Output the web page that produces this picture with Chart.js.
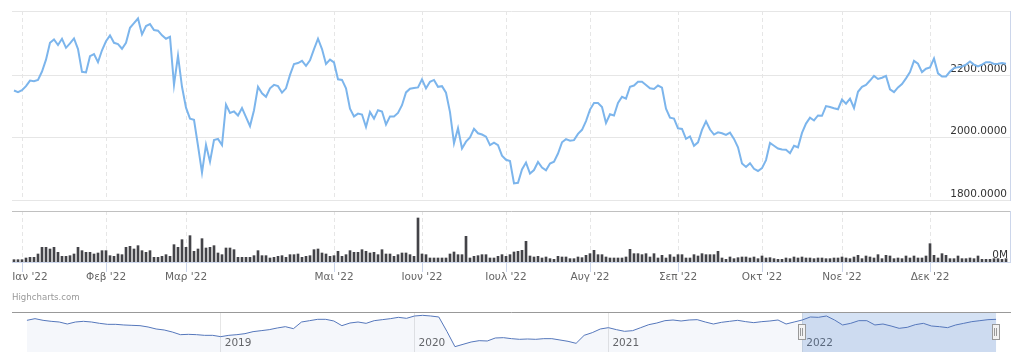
<!DOCTYPE html>
<html>
<head>
<meta charset="utf-8">
<script src="https://cdn.jsdelivr.net/npm/chart.js@4.4.1/dist/chart.umd.min.js"></script>
<style>
  html, body { margin: 0; padding: 0; background: #fff; overflow: hidden; }
  #wrap { position: relative; width: 1021px; height: 352px; }
  canvas { position: absolute; left: 0; }
  #priceCanvas { top: 0; }
  #volCanvas { top: 205px; }
  #navCanvas { top: 305px; }
  .credits { position: absolute; left: 12px; top: 293px; font: 8.6px/9px "DejaVu Sans", sans-serif; color: #999; }
</style>
</head>
<body>
<div id="wrap">
  <canvas id="priceCanvas" width="1021" height="205"></canvas>
  <canvas id="volCanvas" width="1021" height="95"></canvas>
  <canvas id="navCanvas" width="1021" height="47"></canvas>
  <div class="credits">Highcharts.com</div>
</div>
<script>
// daily closes for 2022, one per trading day
const closes = [
  2151, 2146, 2152, 2165, 2183, 2181, 2185, 2212, 2250, 2304,
  2315, 2297, 2317, 2288, 2302, 2318, 2284, 2211, 2209, 2261,
  2268, 2242, 2280, 2309, 2328, 2304, 2300, 2285, 2304, 2352,
  2367, 2382, 2331, 2358, 2364, 2345, 2343, 2328, 2317, 2323,
  2169, 2263, 2163, 2096, 2061, 2057, 1974, 1888, 1977, 1923,
  1992, 1996, 1976, 2106, 2079, 2084, 2071, 2095, 2066, 2037,
  2088, 2163, 2142, 2131, 2158, 2169, 2165, 2144, 2158, 2201,
  2236, 2239, 2246, 2230, 2248, 2284, 2317, 2284, 2236, 2250,
  2241, 2187, 2185, 2158, 2093, 2068, 2077, 2074, 2034, 2082,
  2061, 2088, 2084, 2042, 2068, 2068, 2079, 2104, 2145, 2157,
  2159, 2161, 2187, 2158, 2179, 2185, 2163, 2165, 2144, 2082,
  1982, 2030, 1965, 1987, 2001, 2028, 2014, 2010, 2003, 1976,
  1984, 1976, 1942, 1929, 1925, 1853, 1855, 1898, 1920, 1885,
  1896, 1922, 1904, 1895, 1917, 1923, 1949, 1985, 1995, 1990,
  1992, 2012, 2025, 2053, 2090, 2111, 2111, 2098, 2047, 2075,
  2071, 2111, 2131, 2125, 2163, 2167, 2179, 2179, 2169, 2158,
  2156, 2167, 2160, 2093, 2064, 2061, 2030, 2028, 1996, 2004,
  1974, 1985, 2025, 2052, 2026, 2010, 2017, 2014, 2009, 2016,
  1996, 1969, 1917, 1906, 1918, 1900, 1893, 1902, 1928, 1983,
  1974, 1965, 1962, 1961, 1950, 1974, 1969, 2015, 2045, 2064,
  2055, 2071, 2070, 2101, 2098, 2094, 2091, 2122, 2109, 2125,
  2095, 2147, 2163, 2169, 2183, 2198, 2188, 2192, 2198, 2155,
  2146, 2161, 2172, 2190, 2210, 2246, 2237, 2210, 2221, 2225,
  2254, 2206, 2196, 2196, 2212, 2223, 2226, 2228, 2234, 2244,
  2234, 2228, 2234, 2242, 2242, 2236, 2237, 2239, 2237
];

// volume in millions, same days
const volumes = [
  0.7, 0.7, 0.7, 1.2, 1.4, 1.4, 2.4, 4.4, 4.4, 3.9,
  4.4, 2.9, 1.7, 1.7, 1.9, 2.4, 4.4, 3.4, 2.9, 2.9,
  2.4, 2.7, 3.4, 3.4, 1.9, 1.7, 2.4, 2.2, 4.4, 4.7,
  3.9, 4.9, 3.4, 2.9, 3.4, 1.4, 1.4, 1.7, 2.2, 1.7,
  5.2, 4.4, 6.7, 4.4, 7.9, 3.2, 3.9, 7.0, 4.2, 4.4,
  4.9, 2.7, 2.2, 4.2, 4.2, 3.7, 1.4, 1.4, 1.4, 1.4,
  1.9, 3.4, 1.9, 1.9, 1.2, 1.4, 1.7, 1.9, 1.4, 2.2,
  2.2, 2.4, 1.4, 1.7, 1.9, 3.7, 3.9, 2.7, 2.4, 1.7,
  1.9, 3.2, 1.7, 2.2, 3.4, 2.9, 2.9, 3.7, 3.2, 2.7,
  2.9, 2.2, 3.7, 2.4, 2.4, 1.7, 2.2, 2.7, 2.7, 2.2,
  1.7, 13.2, 2.4, 2.2, 1.2, 1.2, 1.2, 1.2, 1.2, 2.4,
  3.0, 2.2, 2.2, 7.7, 1.2, 1.7, 1.9, 2.2, 2.2, 1.2,
  1.2, 1.7, 2.2, 1.7, 2.2, 3.0, 3.2, 3.5, 6.2, 1.8,
  1.5, 1.7, 1.2, 1.5, 1.0, 0.8, 1.7, 1.5, 1.5, 1.0,
  1.0, 1.5, 1.3, 2.0, 2.5, 3.5, 2.2, 2.2, 1.5, 1.2,
  1.2, 1.2, 1.2, 1.5, 3.8, 2.5, 2.5, 2.2, 2.5, 1.5,
  2.5, 1.2, 2.0, 1.2, 2.2, 1.5, 2.2, 2.2, 1.2, 1.2,
  2.2, 1.8, 2.5, 2.2, 2.2, 2.2, 3.2, 1.2, 0.8, 1.5,
  1.0, 1.3, 1.5, 1.5, 1.2, 1.5, 1.0, 1.8, 1.2, 1.3,
  1.0, 0.8, 0.8, 1.2, 1.0, 1.5, 1.2, 1.5, 1.2, 1.2,
  1.0, 1.2, 1.2, 1.0, 1.0, 1.2, 1.2, 1.5, 1.2, 1.0,
  1.5, 2.0, 1.0, 1.8, 1.5, 1.2, 2.2, 1.0, 2.0, 1.8,
  1.0, 1.2, 1.0, 1.8, 1.2, 1.8, 1.2, 1.2, 1.8, 5.5,
  2.0, 1.2, 2.5, 2.0, 1.0, 1.0, 1.8, 1.0, 1.0, 1.2,
  1.0, 1.8, 0.8, 0.8, 0.8, 1.0, 1.0, 0.8, 1.0
];

// first trading day of each labelled month (index into closes)
const monthStartIdx = [2, 23, 43, 80, 102, 123, 144, 166, 187, 207, 229];
const monthLabels = ["Ιαν '22", "Φεβ '22", "Μαρ '22", "Μαι '22", "Ιουν '22", "Ιουλ '22",
  "Αυγ '22", "Σεπ '22", "Οκτ '22", "Νοε '22", "Δεκ '22"];
const priceTicks = [1800, 2000, 2200];

// navigator: twice-monthly closes, Jan 2018 .. end 2022
const navValues = [
  2194, 2265, 2194, 2151, 2122, 2036, 2122, 2151, 2122, 2065,
  2022, 2022, 1994, 1979, 1965, 1908, 1822, 1779, 1693, 1579,
  1593, 1579, 1550, 1550, 1493, 1550, 1579, 1622, 1708, 1750,
  1793, 1865, 1922, 1836, 2122, 2179, 2237, 2237, 2165, 1965,
  2079, 2122, 2065, 2179, 2222, 2265, 2322, 2280, 2380, 2408,
  2380, 2337, 1722, 1064, 1164, 1264, 1321, 1307, 1436, 1450,
  1407, 1379, 1393, 1379, 1407, 1407, 1350, 1293, 1207, 1550,
  1665, 1822, 1879, 1793, 1722, 1750, 1879, 2008, 2079, 2179,
  2208, 2165, 2208, 2222, 2122, 2036, 2108, 2151, 2194, 2137,
  2094, 2137, 2165, 2208, 2036, 2122, 2208, 2337, 2322, 2380,
  2208, 1994, 2065, 2179, 2179, 1994, 2036, 1951, 1851, 1893,
  2008, 2065, 1951, 1922, 1879, 1994, 2065, 2137, 2179, 2222,
  2237
];
const navYears = [2019, 2020, 2021, 2022];
const selFrom = 2022, selTo = 2023;

Chart.defaults.font.family = '"DejaVu Sans", sans-serif';
Chart.defaults.font.size = 10.5;

// axes take no room, the plot area is set by layout padding
const flat = (s) => { s.height = 0; s.paddingLeft = 0; s.paddingRight = 0; };
const thin = (s) => { s.width = 0; s.paddingTop = 0; s.paddingBottom = 0; };
const setTicks = (vals) => (s) => { s.ticks = vals.map((v) => ({ value: v })); };

const X_MIN = -0.5, X_MAX = 249;
const common = {
  responsive: false,
  maintainAspectRatio: false,
  animation: false,
  events: [],
  plugins: { legend: { display: false }, tooltip: { enabled: false } },
};

const monthGrid = (extra) => Object.assign({
  type: "linear", min: X_MIN, max: X_MAX, weight: 0, offset: false,
  afterBuildTicks: setTicks(monthStartIdx),
  grid: { color: "#e6e6e6", drawTicks: false, offset: false },
  border: { display: false, dash: [4, 3] },
  ticks: { display: false },
  afterFit: flat,
}, extra);

const topLine = (color, min, max) => ({
  type: "linear", position: "top", min: min, max: max, offset: false,
  grid: { display: false, drawTicks: false, offset: false }, ticks: { display: false },
  border: { color: color }, afterFit: flat,
});

new Chart(document.getElementById("priceCanvas"), {
  type: "line",
  data: {
    datasets: [{
      data: closes.map((v, i) => ({ x: i, y: v })),
      borderColor: "#7cb5ec",
      borderWidth: 2,
      pointRadius: 0,
      tension: 0,
      xAxisID: "x",
      yAxisID: "y",
    }],
  },
  options: Object.assign({}, common, {
    layout: { padding: { left: 12, right: 11, top: 11, bottom: 5 } },
    scales: {
      x: monthGrid(),
      xTop: topLine("#e6e6e6", X_MIN, X_MAX),
      y: {
        type: "linear", position: "right", min: 1800, max: 2406,
        afterBuildTicks: setTicks(priceTicks),
        grid: { color: "#e6e6e6", drawTicks: false },
        border: { color: "#ccd6eb" },
        ticks: { display: false },
        afterFit: thin,
      },
      yLabels: {
        type: "linear", position: "right", min: 1800, max: 2406, z: 1,
        afterBuildTicks: setTicks(priceTicks),
        grid: { display: false, drawTicks: false },
        border: { display: false },
        ticks: {
          mirror: true, padding: -3, labelOffset: -6, color: "#333",
          textStrokeColor: "#fff", textStrokeWidth: 2,
          callback: (v) => v.toFixed(4),
        },
        afterFit: thin,
      },
    },
  }),
});

// Highcharts pushes the first month label inside the plot
const labelAt = monthStartIdx.map((v, i) => (i === 0 ? v + 2 : v));

new Chart(document.getElementById("volCanvas"), {
  type: "bar",
  data: {
    datasets: [{
      data: volumes.map((v, i) => ({ x: i, y: v })),
      backgroundColor: "#434348",
      barThickness: 2,
      xAxisID: "x",
      yAxisID: "y",
    }],
  },
  options: Object.assign({}, common, {
    layout: { padding: { left: 12, right: 11, top: 6, bottom: 0 } },
    scales: {
      x: monthGrid({
        grid: { color: "#e6e6e6", drawTicks: true, tickLength: 10, tickColor: "#ccd6eb", tickBorderDash: [], offset: false },
        border: { display: true, color: "#ccd6eb", dash: [4, 3] },
      }),
      xLabels: {
        type: "linear", position: "bottom", weight: 1, min: X_MIN, max: X_MAX, offset: false,
        afterBuildTicks: setTicks(labelAt),
        grid: { display: false, drawTicks: false, offset: false },
        border: { display: false },
        ticks: {
          padding: 9, color: "#666", maxRotation: 0, autoSkip: false,
          callback: (v, i) => monthLabels[i],
        },
        afterFit: (s) => { s.height = 38; s.paddingLeft = 0; s.paddingRight = 0; },
      },
      xTop: topLine("#c0c0c0", X_MIN, X_MAX),
      y: {
        type: "linear", position: "right", min: 0, max: 15.3, z: 1,
        afterBuildTicks: setTicks([0]),
        grid: { display: false, drawTicks: false },
        border: { color: "#ccd6eb" },
        ticks: {
          mirror: true, padding: -2, labelOffset: -7, color: "#333",
          textStrokeColor: "#fff", textStrokeWidth: 2,
          callback: (v) => v + "M",
        },
        afterFit: thin,
      },
    },
  }),
});

const NAV_MIN = 2017.923, NAV_MAX = 2023.072;

const navMask = {
  id: "navMask",
  beforeDatasetsDraw(chart) {
    const { ctx, chartArea, scales } = chart;
    const x1 = scales.x.getPixelForValue(selFrom);
    const x2 = scales.x.getPixelForValue(selTo);
    ctx.save();
    ctx.fillStyle = "rgba(63,123,207,0.22)";
    ctx.fillRect(x1, chartArea.top + 1, x2 - x1, chartArea.bottom - chartArea.top);
    ctx.restore();
  },
  afterDraw(chart) {
    const { ctx, chartArea, scales } = chart;
    const mid = (chartArea.top + chartArea.bottom) / 2;
    [selFrom, selTo].forEach((v) => {
      const x = Math.round(scales.x.getPixelForValue(v));
      ctx.save();
      ctx.fillStyle = "#f2f2f2";
      ctx.strokeStyle = "#999";
      ctx.lineWidth = 1;
      ctx.fillRect(x - 3.5, mid - 7.5, 7, 15);
      ctx.strokeRect(x - 3.5, mid - 7.5, 7, 15);
      ctx.beginPath();
      ctx.moveTo(x - 1.5, mid - 4); ctx.lineTo(x - 1.5, mid + 4);
      ctx.moveTo(x + 0.5, mid - 4); ctx.lineTo(x + 0.5, mid + 4);
      ctx.stroke();
      ctx.restore();
    });
  },
};

new Chart(document.getElementById("navCanvas"), {
  type: "line",
  data: {
    datasets: [{
      data: navValues.map((v, i) => ({ x: 2018 + i / 24, y: v })),
      borderColor: "#5577bb",
      borderWidth: 1,
      pointRadius: 0,
      tension: 0,
      fill: "start",
      backgroundColor: "rgba(51,92,173,0.05)",
    }],
  },
  options: Object.assign({}, common, {
    layout: { padding: { left: 12, right: 11, top: 7, bottom: 0 } },
    scales: {
      x: {
        type: "linear", position: "bottom", min: NAV_MIN, max: NAV_MAX,
        afterBuildTicks: setTicks(navYears),
        grid: { color: "#e6e6e6", drawTicks: false },
        border: { display: false },
        ticks: {
          mirror: true, padding: 2, align: "start", labelOffset: 4, color: "#666",
          maxRotation: 0, autoSkip: false,
          callback: (v) => String(v),
        },
        afterFit: flat,
      },
      xTop: topLine("#999", NAV_MIN, NAV_MAX),
      y: { type: "linear", min: 835, max: 2551, display: false },
    },
  }),
  plugins: [navMask],
});
</script>
</body>
</html>
